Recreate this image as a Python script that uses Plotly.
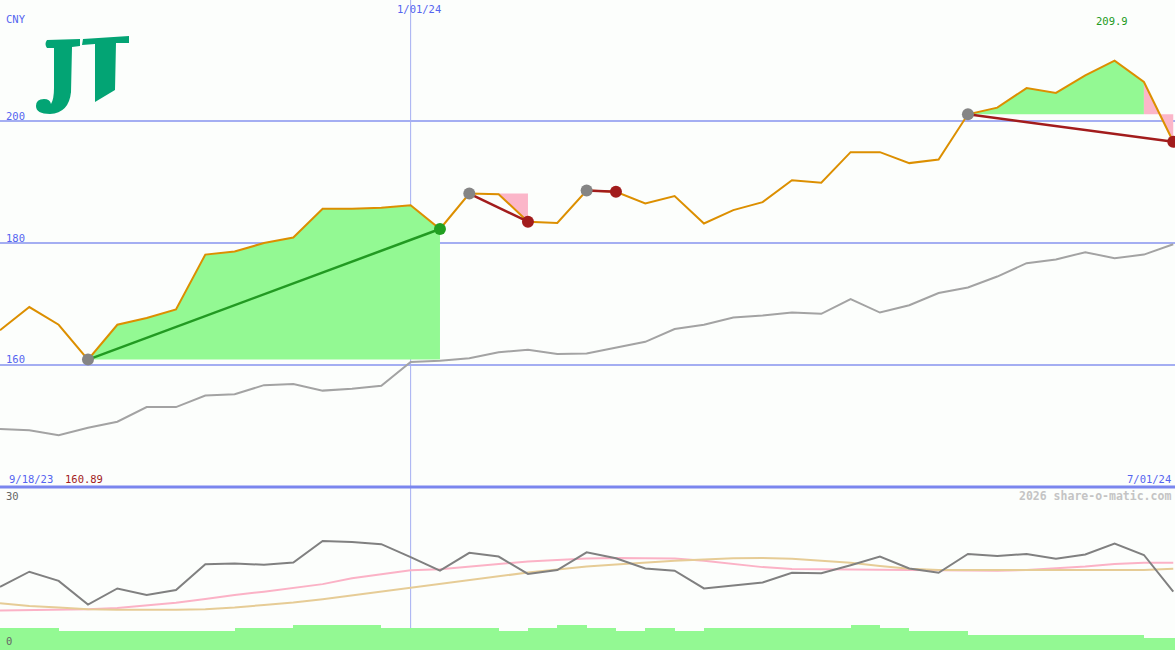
import plotly.graph_objects as go

W, H = 1175, 650

# ---------------- data ----------------
dates = ["2023-09-25", "2023-10-02", "2023-10-09", "2023-10-16", "2023-10-23", "2023-10-30",
         "2023-11-06", "2023-11-13", "2023-11-20", "2023-11-27", "2023-12-04", "2023-12-11",
         "2023-12-18", "2023-12-25", "2024-01-01", "2024-01-08", "2024-01-15", "2024-01-22",
         "2024-01-29", "2024-02-05", "2024-02-12", "2024-02-19", "2024-02-26", "2024-03-04",
         "2024-03-11", "2024-03-18", "2024-03-25", "2024-04-01", "2024-04-08", "2024-04-15",
         "2024-04-22", "2024-04-29", "2024-05-06", "2024-05-13", "2024-05-20", "2024-05-27",
         "2024-06-03", "2024-06-10", "2024-06-17", "2024-06-24", "2024-07-01"]

close = [165.7, 169.5, 166.6, 160.89, 166.6, 167.7, 169.1, 178.1, 178.6, 180.0, 180.9, 185.6,
         185.6, 185.8, 186.2, 182.3, 188.1, 188.0, 183.5, 183.3, 188.6, 188.4, 186.5, 187.7,
         183.2, 185.4, 186.7, 190.3, 189.9, 194.9, 194.9, 193.1, 193.7, 201.1, 202.2, 205.4,
         204.6, 207.5, 209.9, 206.4, 196.6]

index_line = [149.5, 149.3, 148.5, 149.7, 150.7, 153.1, 153.1, 155.0, 155.2, 156.7, 156.9, 155.8,
              156.1, 156.6, 160.5, 160.7, 161.1, 162.1, 162.5, 161.8, 161.9, 162.9, 163.8, 165.9,
              166.6, 167.8, 168.1, 168.6, 168.4, 170.8, 168.6, 169.8, 171.8, 172.7, 174.5, 176.7,
              177.3, 178.5, 177.5, 178.1, 179.8]

osc = [11.7, 14.5, 12.8, 8.4, 11.4, 10.2, 11.1, 15.9, 16.0, 15.8, 16.2, 20.2, 20.0, 19.6, 17.2,
       14.7, 18.0, 17.3, 14.1, 14.8, 18.1, 17.0, 15.1, 14.7, 11.4, 12.0, 12.5, 14.3, 14.2, 15.7,
       17.3, 15.1, 14.3, 17.8, 17.4, 17.8, 16.9, 17.7, 19.7, 17.6, 10.8]

avg_fast = [7.3, 7.35, 7.45, 7.55, 7.8, 8.25, 8.75, 9.45, 10.2, 10.8, 11.45, 12.2, 13.3, 14.05,
            14.75, 14.95, 15.45, 16.0, 16.4, 16.65, 16.95, 17.05, 17.05, 16.95, 16.55, 16.0,
            15.35, 15.0, 14.95, 14.9, 14.9, 14.8, 14.7, 14.7, 14.7, 14.8, 15.1, 15.45, 15.95,
            16.15, 16.15]

avg_slow = [8.65, 8.15, 7.85, 7.55, 7.45, 7.4, 7.45, 7.55, 7.85, 8.35, 8.8, 9.4, 10.1, 10.8,
            11.5, 12.2, 12.95, 13.7, 14.35, 14.9, 15.45, 15.85, 16.2, 16.55, 16.75, 17.0, 17.05,
            16.9, 16.55, 16.15, 15.55, 15.05, 14.8, 14.8, 14.8, 14.8, 14.8, 14.8, 14.8, 14.8,
            15.05]

volume = [4.1, 4.1, 3.55, 3.55, 3.55, 3.55, 3.55, 3.55, 4.1, 4.1, 4.6, 4.6, 4.6, 4.1, 4.1, 4.1,
          4.1, 3.55, 4.1, 4.6, 4.1, 3.55, 4.1, 3.55, 4.1, 4.1, 4.1, 4.1, 4.1, 4.6, 4.1, 3.55,
          3.55, 2.8, 2.8, 2.8, 2.8, 2.8, 2.8, 2.3, 2.3]

# trades: (entry index, exit index)
trades = [(3, 15), (16, 18), (20, 21), (33, 40)]

# ---------------- style ----------------
BG = "#fcfefc"
GREEN_FILL = "#93f993"
PINK_FILL = "#fbb6c9"
ORANGE = "#dc8f00"
GRID = "#a4aef2"
BLUE_TXT = "#5565f0"
FONT = "DejaVu Sans Mono"

fig = go.Figure()

# fills for trades (per-interval colour)
for a, b in trades:
    entry = close[a]
    runs = []
    for j in range(a, b):
        col = GREEN_FILL if close[j + 1] >= entry else PINK_FILL
        if runs and runs[-1][2] == col and runs[-1][1] == j:
            runs[-1][1] = j + 1
        else:
            runs.append([j, j + 1, col])
    for j0, j1, col in runs:
        xs = dates[j0:j1 + 1]
        fig.add_trace(go.Scatter(x=xs, y=[entry] * len(xs), mode="lines",
                                 line=dict(width=0, color=col), hoverinfo="skip"))
        fig.add_trace(go.Scatter(x=xs, y=close[j0:j1 + 1], mode="lines", fill="tonexty",
                                 fillcolor=col, line=dict(width=0, color=col), hoverinfo="skip"))

# index line (grey)
fig.add_trace(go.Scatter(x=dates, y=index_line, mode="lines",
                         line=dict(color="#a3a3a3", width=2)))
# price line
fig.add_trace(go.Scatter(x=dates, y=close, mode="lines", line=dict(color=ORANGE, width=2)))

# trade lines and markers
for a, b in trades:
    col = "#229a22" if close[b] > close[a] else "#a21c1c"
    fig.add_trace(go.Scatter(x=[dates[a], dates[b]], y=[close[a], close[b]], mode="lines",
                             line=dict(color=col, width=2.5)))
for a, b in trades:
    col = "#22a022" if close[b] > close[a] else "#a21c1c"
    fig.add_trace(go.Scatter(x=[dates[a]], y=[close[a]], mode="markers",
                             marker=dict(color="#858585", size=12, line=dict(width=0))))
    fig.add_trace(go.Scatter(x=[dates[b]], y=[close[b]], mode="markers",
                             marker=dict(color=col, size=12, line=dict(width=0))))

# lower panel
fig.add_trace(go.Bar(x=dates, y=volume, yaxis="y2", offset=0, width=7 * 86400000,
                     marker=dict(color=GREEN_FILL, line=dict(width=0))))
fig.add_trace(go.Scatter(x=dates, y=avg_fast, yaxis="y2", mode="lines",
                         line=dict(color="#fbb2c6", width=2)))
fig.add_trace(go.Scatter(x=dates, y=avg_slow, yaxis="y2", mode="lines",
                         line=dict(color="#e6cc96", width=2)))
fig.add_trace(go.Scatter(x=dates, y=osc, yaxis="y2", mode="lines",
                         line=dict(color="#808080", width=2)))

split = (H - 487) / H


def px(x, y):
    return x / W, 1 - y / H


shapes = []
for lvl in [200, 180, 160]:
    shapes.append(dict(type="line", xref="paper", x0=0, x1=1, yref="y", y0=lvl, y1=lvl,
                       line=dict(color=GRID, width=2), layer="below"))
shapes.append(dict(type="line", xref="x", x0="2024-01-01", x1="2024-01-01", yref="paper",
                   y0=(H - 628) / H, y1=1, line=dict(color=GRID, width=1), layer="below"))
shapes.append(dict(type="line", xref="paper", x0=0, x1=1, yref="paper", y0=split, y1=split,
                   line=dict(color="#7a86ee", width=3), layer="above"))


def path(cmds):
    out = []
    for c in cmds:
        if isinstance(c, str):
            out.append(c)
        else:
            x, y = px(*c)
            out.append(f"{x:.5f},{y:.5f}")
    return " ".join(out)


LOGO = "#03a474"
# T
shapes.append(dict(type="path", xref="paper", yref="paper", fillcolor=LOGO,
                   line=dict(width=0),
                   path=path(["M", (83, 39), "L", (129, 36), "L", (129, 43), "L", (116, 43),
                              "L", (115, 90), "L", (95, 102), "L", (95, 44), "L", (82, 45),
                              "Z"])))
# J
shapes.append(dict(type="path", xref="paper", yref="paper", fillcolor=LOGO,
                   line=dict(width=0),
                   path=path(["M", (47, 40), "L", (80, 39), "L", (80, 46), "L", (72, 47),
                              "L", (71, 92), "Q", (69, 113), (50, 114), "Q", (36, 114),
                              (36, 106), "Q", (36, 99), (44, 99), "Q", (50, 99), (51, 104),
                              "Q", (54, 99), (54, 88), "L", (54, 48), "L", (47, 48),
                              "Q", (44, 44), (47, 40), "Z"])))

annotations = []


def txt(s, x, y, color, anchor="left", size=10.5, bold=False):
    xp, yp = px(x, y)
    annotations.append(dict(text=(f"<b>{s}</b>" if bold else s), x=xp, y=yp, xref="paper",
                            yref="paper", xanchor=anchor, yanchor="middle", showarrow=False,
                            font=dict(family=FONT, size=size, color=color)))


txt("CNY", 4, 19, BLUE_TXT)
txt("1/01/24", 395, 9, BLUE_TXT)
txt("209.9", 1094, 21, "#229a22")
txt("200", 4, 116, BLUE_TXT)
txt("180", 4, 238, BLUE_TXT)
txt("160", 4, 359, BLUE_TXT)
txt("9/18/23", 7, 479, BLUE_TXT)
txt("160.89", 63, 479, "#a21c1c")
txt("7/01/24", 1173, 479, BLUE_TXT, anchor="right")
txt("30", 4, 496, "#666666")
txt("0", 4, 641, "#666666")
txt("2026 share-o-matic.com", 1173, 496, "#c4c4c4", anchor="right", size=11.5, bold=True)

fig.update_layout(
    width=W, height=H,
    margin=dict(l=0, r=0, t=0, b=0, pad=0),
    paper_bgcolor=BG, plot_bgcolor=BG,
    showlegend=False,
    hovermode=False,
    bargap=0,
    xaxis=dict(type="date", range=["2023-09-25", "2024-07-01 10:00"], visible=False,
               showgrid=False, zeroline=False),
    yaxis=dict(domain=[split, 1], range=[140, 219.84], visible=False, showgrid=False,
               zeroline=False),
    yaxis2=dict(domain=[0, split], range=[0, 30.19], visible=False, showgrid=False,
                zeroline=False, anchor="x"),
    shapes=shapes,
    annotations=annotations,
)

fig.write_html("out.html", config={"displayModeBar": False, "staticPlot": True},
               post_script="document.body.style.margin='0';document.body.style.overflow='hidden';")
